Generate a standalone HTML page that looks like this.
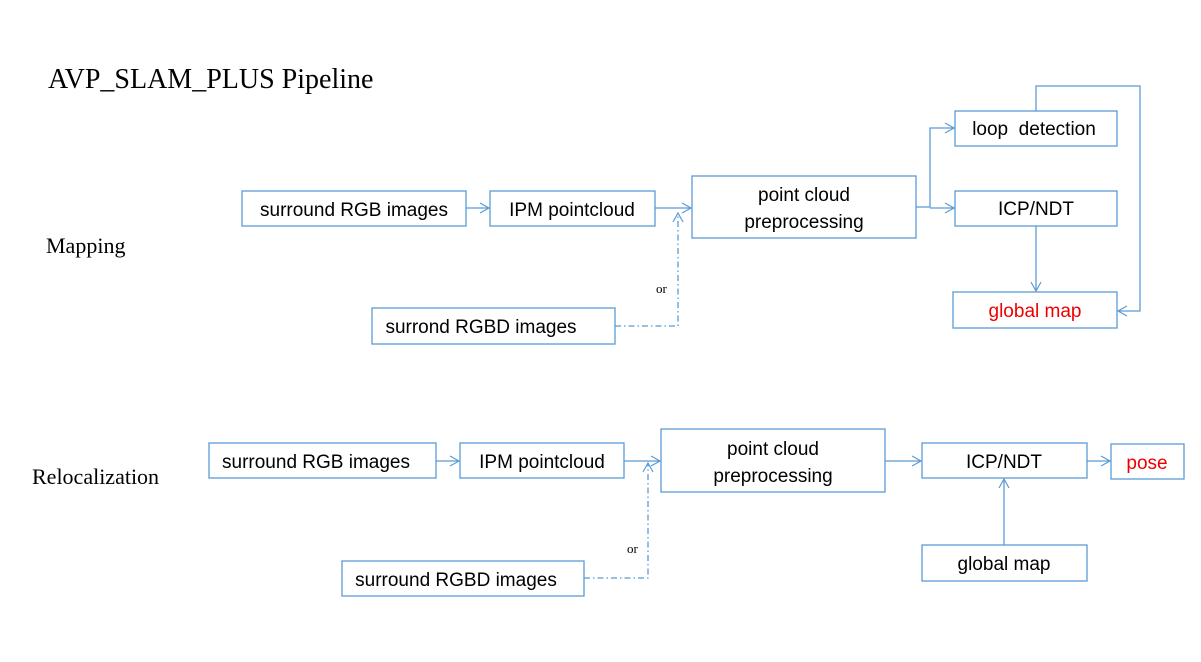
<!DOCTYPE html>
<html><head><meta charset="utf-8"><style>
body{margin:0;background:#fff;width:1201px;height:657px;overflow:hidden}
</style></head><body>
<svg width="1201" height="657" viewBox="0 0 1201 657" xmlns="http://www.w3.org/2000/svg">
<defs><marker id="a" markerWidth="12" markerHeight="12" refX="10" refY="6" orient="auto" markerUnits="userSpaceOnUse"><path d="M1,1 L10,6 L1,11" fill="none" stroke="#5b9bd5" stroke-width="1.2"/></marker></defs>
<g font-family="Liberation Serif, serif" fill="#000">
<text x="48" y="88" font-size="28">AVP_SLAM_PLUS Pipeline</text>
<text x="46" y="253" font-size="22">Mapping</text>
<text x="32" y="484" font-size="22">Relocalization</text>
<text x="656" y="293" font-size="13">or</text>
<text x="627" y="553" font-size="13">or</text>
</g>
<g fill="none" stroke="#5b9bd5" stroke-width="1.3">
<rect x="242" y="191" width="224" height="35"/>
<rect x="490" y="191" width="165" height="35"/>
<rect x="692" y="176" width="224" height="62"/>
<rect x="955" y="111" width="162" height="35"/>
<rect x="955" y="191" width="162" height="35"/>
<rect x="953" y="292" width="164" height="36"/>
<rect x="372" y="308" width="243" height="36"/>
<rect x="209" y="443" width="227" height="35"/>
<rect x="460" y="443" width="164" height="35"/>
<rect x="661" y="429" width="224" height="63"/>
<rect x="922" y="443" width="165" height="35"/>
<rect x="1111" y="444" width="73" height="35"/>
<rect x="922" y="545" width="165" height="36"/>
<rect x="342" y="561" width="242" height="35"/>
<line x1="466" y1="208" x2="489" y2="208" marker-end="url(#a)"/>
<line x1="655" y1="208" x2="691" y2="208" marker-end="url(#a)"/>
<polyline points="916,207 930,207 930,128 954,128" marker-end="url(#a)"/>
<line x1="930" y1="208" x2="954" y2="208" marker-end="url(#a)"/>
<line x1="1036" y1="226" x2="1036" y2="291" marker-end="url(#a)"/>
<polyline points="1036,111 1036,86 1140,86 1140,311 1118,311" marker-end="url(#a)"/>
<polyline points="615,326 678,326 678,213" stroke-dasharray="6,3,1.5,3" marker-end="url(#a)"/>
<line x1="436" y1="461" x2="459" y2="461" marker-end="url(#a)"/>
<line x1="624" y1="461" x2="660" y2="461" marker-end="url(#a)"/>
<line x1="885" y1="461" x2="921" y2="461" marker-end="url(#a)"/>
<line x1="1087" y1="461" x2="1110" y2="461" marker-end="url(#a)"/>
<line x1="1004" y1="545" x2="1004" y2="479" marker-end="url(#a)"/>
<polyline points="584,578 648,578 648,463" stroke-dasharray="6,3,1.5,3" marker-end="url(#a)"/>
</g>
<g font-family="Liberation Sans, sans-serif" font-size="19" fill="#000" text-anchor="middle">
<text x="354" y="216">surround RGB images</text>
<text x="572" y="216">IPM pointcloud</text>
<text x="804" y="201">point cloud</text>
<text x="804" y="228">preprocessing</text>
<text x="1034" y="135" xml:space="preserve">loop  detection</text>
<text x="1036" y="215">ICP/NDT</text>
<text x="1035" y="317" fill="#e00">global map</text>
<text x="481" y="333">surrond RGBD images</text>
<text x="316" y="468">surround RGB images</text>
<text x="542" y="468">IPM pointcloud</text>
<text x="773" y="455">point cloud</text>
<text x="773" y="482">preprocessing</text>
<text x="1004" y="468">ICP/NDT</text>
<text x="1147" y="469" fill="#e00">pose</text>
<text x="1004" y="570">global map</text>
<text x="456" y="586">surround RGBD images</text>
</g>
</svg>
</body></html>
